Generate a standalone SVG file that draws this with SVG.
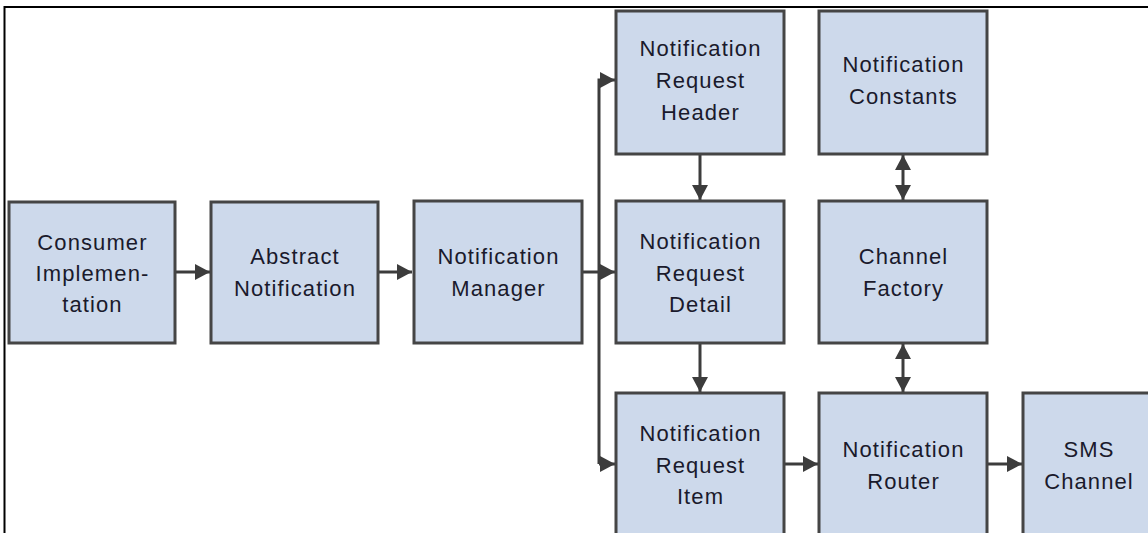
<svg xmlns="http://www.w3.org/2000/svg" width="1148" height="533" viewBox="0 0 1148 533">
  <style>
    .box { fill: #cdd9eb; stroke: #454545; stroke-width: 3; }
    .lbl { font-family: "Liberation Sans", Arial, sans-serif; font-size: 22px; letter-spacing: 1.1px; fill: #1a1a2c; text-anchor: middle; }
    .conn { fill: none; stroke: #3c3c3c; stroke-width: 3; }
    .frame { fill: none; stroke: #000000; stroke-width: 2; }
  </style>
  <defs>
    <marker id="arr" markerUnits="userSpaceOnUse" markerWidth="16" markerHeight="18" refX="15" refY="9" orient="auto-start-reverse">
      <path d="M0,1 L15,9 L0,17 z" fill="#3c3c3c"/>
    </marker>
  </defs>
  <rect width="1148" height="533" fill="#ffffff"/>
  <path class="frame" d="M4.5,533 V7 H1148"/>

  <g id="connectors">
    <path class="conn" d="M175,272 H210" marker-end="url(#arr)"/>
    <path class="conn" d="M378,272 H412" marker-end="url(#arr)"/>
    <path class="conn" d="M582,272 H615" marker-end="url(#arr)"/>
    <path class="conn" d="M599,464 V80 H615" marker-end="url(#arr)"/>
    <path class="conn" d="M599,464 H615" marker-end="url(#arr)"/>
    <path class="conn" d="M700,154 V200" marker-end="url(#arr)"/>
    <path class="conn" d="M700,343 V392" marker-end="url(#arr)"/>
    <path class="conn" d="M903,155 V200" marker-start="url(#arr)" marker-end="url(#arr)"/>
    <path class="conn" d="M903,344 V392" marker-start="url(#arr)" marker-end="url(#arr)"/>
    <path class="conn" d="M783,464 H818" marker-end="url(#arr)"/>
    <path class="conn" d="M987,464 H1022" marker-end="url(#arr)"/>
  </g>

  <g id="consumer">
    <rect class="box" x="9" y="202" width="166" height="141"/>
    <text class="lbl" x="92.5" y="250">Consumer</text>
    <text class="lbl" x="92.5" y="281">Implemen-</text>
    <text class="lbl" x="92.5" y="312">tation</text>
  </g>
  <g id="abstract">
    <rect class="box" x="211" y="202" width="167" height="141"/>
    <text class="lbl" x="295" y="264">Abstract</text>
    <text class="lbl" x="295" y="296">Notification</text>
  </g>
  <g id="manager">
    <rect class="box" x="414" y="201" width="168" height="142"/>
    <text class="lbl" x="498.5" y="264">Notification</text>
    <text class="lbl" x="498.5" y="296">Manager</text>
  </g>
  <g id="header">
    <rect class="box" x="616" y="11" width="168" height="143"/>
    <text class="lbl" x="700.5" y="56">Notification</text>
    <text class="lbl" x="700.5" y="88">Request</text>
    <text class="lbl" x="700.5" y="120">Header</text>
  </g>
  <g id="detail">
    <rect class="box" x="616" y="201" width="168" height="142"/>
    <text class="lbl" x="700.5" y="249">Notification</text>
    <text class="lbl" x="700.5" y="281">Request</text>
    <text class="lbl" x="700.5" y="312">Detail</text>
  </g>
  <g id="item">
    <rect class="box" x="616" y="393" width="168" height="160"/>
    <text class="lbl" x="700.5" y="441">Notification</text>
    <text class="lbl" x="700.5" y="473">Request</text>
    <text class="lbl" x="700.5" y="504">Item</text>
  </g>
  <g id="constants">
    <rect class="box" x="819" y="11" width="168" height="143"/>
    <text class="lbl" x="903.5" y="72">Notification</text>
    <text class="lbl" x="903.5" y="104">Constants</text>
  </g>
  <g id="factory">
    <rect class="box" x="819" y="201" width="168" height="142"/>
    <text class="lbl" x="903.5" y="264">Channel</text>
    <text class="lbl" x="903.5" y="296">Factory</text>
  </g>
  <g id="router">
    <rect class="box" x="819" y="393" width="168" height="160"/>
    <text class="lbl" x="903.5" y="457">Notification</text>
    <text class="lbl" x="903.5" y="489">Router</text>
  </g>
  <g id="sms">
    <rect class="box" x="1023" y="393" width="168" height="160"/>
    <text class="lbl" x="1089" y="457">SMS</text>
    <text class="lbl" x="1089" y="489">Channel</text>
  </g>
</svg>
